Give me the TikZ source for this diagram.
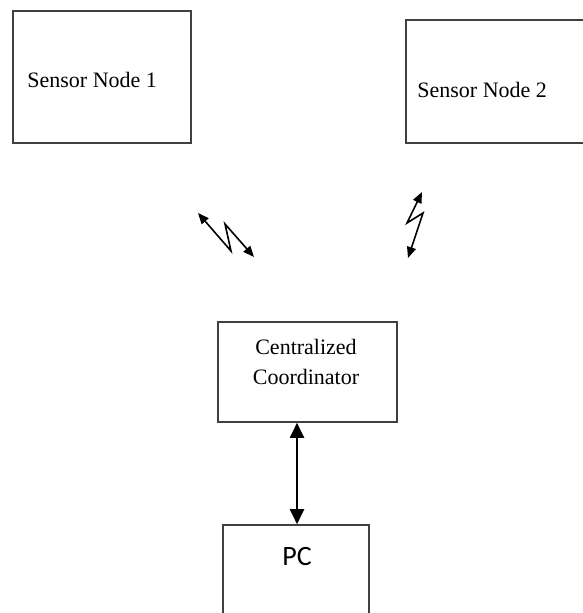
\documentclass[tikz,border=0pt]{standalone}
\usepackage{fontspec}
\setmainfont{Liberation Serif}
\newfontfamily\pcfont{Carlito}
\usetikzlibrary{arrows.meta}
\tikzset{
    % the plain boxes of the network
    unit_box/.style={
        draw=black!75,
        line width=0.8pt,
        rectangle,
        inner sep=0pt
    },
    % the texts set in the boxes
    box_text/.style={
        font=\fontsize{11}{15}\selectfont,
        inner sep=0pt,
        align=center
    },
    % the small wireless links
    radio_link/.style={
        line width=0.8pt,
        {Triangle[length=5.5pt,width=4.5pt]}-{Triangle[length=5.5pt,width=4.5pt]}
    },
    % the cable to the PC
    wired_link/.style={
        line width=1pt,
        {Triangle[length=7.5pt,width=7pt]}-{Triangle[length=7.5pt,width=7pt]}
    }
}

\begin{document}
\begin{tikzpicture}[x=0.5pt,y=-0.5pt]

    \useasboundingbox (0,0) rectangle (582,613);

    % --- 1. Sensor nodes ---
    \node[unit_box, minimum width=89pt, minimum height=66pt] (sensor1) at (102,77) {};
    \node[box_text, anchor=base west] (sensor1_text) at (27,88) {Sensor Node 1};

    \node[unit_box, minimum width=97pt, minimum height=61.5pt] (sensor2) at (503,81.5) {};
    \node[box_text, anchor=base west] (sensor2_text) at (417,98) {Sensor Node 2};

    % --- 2. Wireless links ---
    \coordinate (link1_a) at (198,213);
    \coordinate (link1_b) at (231,251);
    \coordinate (link1_c) at (225,224);
    \coordinate (link1_d) at (254,257);
    \draw[radio_link] (link1_a) -- (link1_b) -- (link1_c) -- (link1_d);

    \coordinate (link2_a) at (422,192);
    \coordinate (link2_b) at (407,223);
    \coordinate (link2_c) at (423,213);
    \coordinate (link2_d) at (408,258);
    \draw[radio_link] (link2_a) -- (link2_b) -- (link2_c) -- (link2_d);

    % --- 3. Coordinator and PC ---
    \node[unit_box, minimum width=89.5pt, minimum height=50pt] (coord) at (307.5,372) {};
    \node[box_text] (coord_text) at (306,362) {Centralized\\Coordinator};

    \node[unit_box, minimum width=73pt, minimum height=57.5pt] (pc) at (296,582.5) {};
    \node[font=\pcfont\fontsize{14}{16}\selectfont, inner sep=0pt] (pc_text) at (297,557) {PC};

    \draw[wired_link] (coord.south -| 297,0) -- (pc.north -| 297,0);

\end{tikzpicture}
\end{document}
